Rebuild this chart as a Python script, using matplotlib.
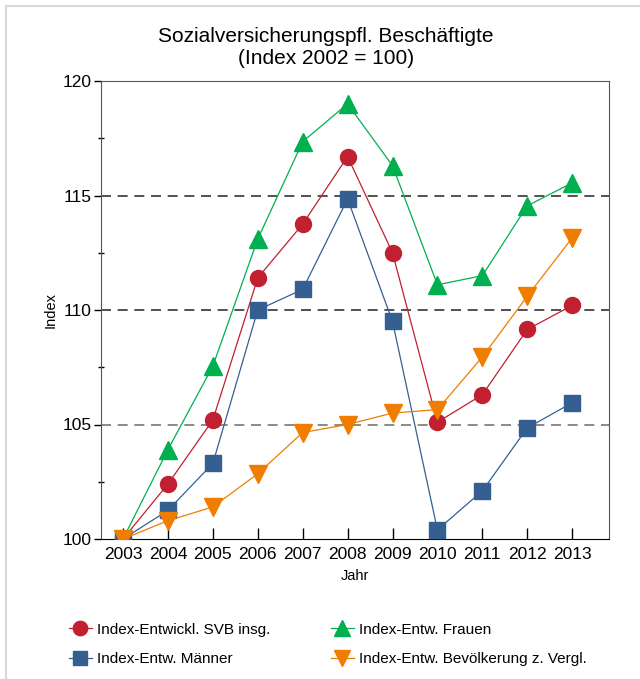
import matplotlib
matplotlib.use('Agg')
import matplotlib.pyplot as plt
from matplotlib.lines import Line2D
from matplotlib.ticker import MultipleLocator

plt.rcParams['font.family'] = ['Liberation Sans', 'DejaVu Sans']

years = [2003, 2004, 2005, 2006, 2007, 2008, 2009, 2010, 2011, 2012, 2013]
svb_insg = [100, 102.4, 105.2, 111.4, 113.75, 116.7, 112.5, 105.1, 106.3, 109.15, 110.2]
frauen = [100, 103.9, 107.55, 113.1, 117.35, 119.0, 116.3, 111.1, 111.5, 114.55, 115.55]
maenner = [100, 101.25, 103.3, 110.0, 110.9, 114.85, 109.5, 100.4, 102.1, 104.85, 105.95]
bevoelkerung = [100, 100.8, 101.4, 102.85, 104.65, 105.0, 105.5, 105.65, 107.95, 110.6, 113.15]

c_red = '#C0202F'
c_green = '#00B050'
c_blue = '#365F91'
c_orange = '#EE7D00'

fig = plt.figure(figsize=(6.4, 6.79), dpi=100)
ax = fig.add_axes([101 / 640, 1 - 539 / 679, 508 / 640, 458 / 679])

# light frame around the figure
fig.add_artist(Line2D([6 / 640, 6 / 640], [0, 1 - 6 / 679], color='#D9D9D9', lw=1.5,
                      transform=fig.transFigure))
fig.add_artist(Line2D([6 / 640, 1], [1 - 6 / 679, 1 - 6 / 679], color='#D9D9D9', lw=1.5,
                      transform=fig.transFigure))

# dashed reference lines
for v, c in [(105, '#777777'), (110, '#333333'), (115, '#333333')]:
    ax.axhline(v, color=c, lw=1.2, ls=(0, (6, 4)), zorder=1)

l1, = ax.plot(years, svb_insg, color=c_red, lw=0.9, marker='o', ms=11.5,
              mec=c_red, label='Index-Entwickl. SVB insg.', zorder=3)
l2, = ax.plot(years, frauen, color=c_green, lw=0.9, marker='^', ms=12.5,
              mec=c_green, label='Index-Entw. Frauen', zorder=3)
l3, = ax.plot(years, maenner, color=c_blue, lw=0.9, marker='s', ms=11,
              mec=c_blue, label='Index-Entw. Männer', zorder=3)
l4, = ax.plot(years, bevoelkerung, color=c_orange, lw=0.9, marker='v', ms=12.5,
              mec=c_orange, label='Index-Entw. Bevölkerung z. Vergl.', zorder=4)

ax.set_xlim(2002.51, 2013.82)
ax.set_ylim(100, 120)
ax.set_xticks(years)
ax.set_yticks([100, 105, 110, 115, 120])
ax.yaxis.set_minor_locator(MultipleLocator(2.5))
ax.tick_params(axis='x', direction='in', length=8, width=1, labelsize=12.5, pad=6)
ax.tick_params(axis='y', which='major', direction='out', length=5, width=1,
               labelsize=12.5, pad=2)
ax.tick_params(axis='y', which='minor', direction='inout', length=5, width=1)

for s in ['top', 'right', 'left']:
    ax.spines[s].set_color('#555555')
ax.spines['bottom'].set_color('black')

ax.set_xlabel('Jahr', fontsize=10.5, labelpad=5)
ax.set_ylabel('Index', fontsize=10.5, labelpad=3)

fig.text(326 / 640, 1 - 37 / 679, 'Sozialversicherungspfl. Beschäftigte',
         ha='center', va='center', fontsize=15)
fig.text(326 / 640, 1 - 58 / 679, '(Index 2002 = 100)',
         ha='center', va='center', fontsize=15)

# legend filled row by row: SVB | Frauen, Männer | Bevölkerung
fig.legend(handles=[l1, l3, l2, l4], ncol=2, loc='upper left',
           bbox_to_anchor=(55 / 640, 1 - 609 / 679), frameon=False, fontsize=11,
           handlelength=1.5, handletextpad=0.36, columnspacing=3.95, labelspacing=1.0,
           markerscale=0.9)

fig.savefig('out.png', dpi=100)
